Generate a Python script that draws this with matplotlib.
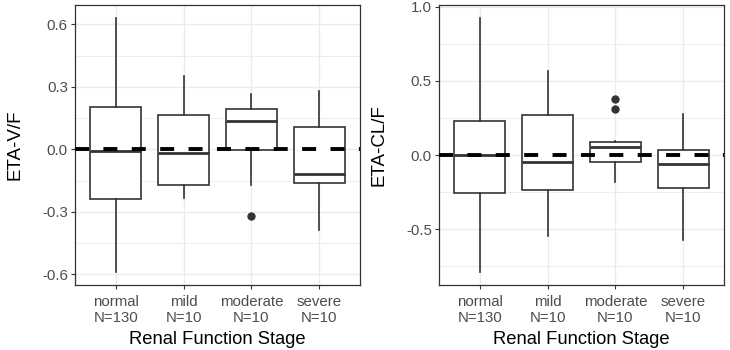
import matplotlib
matplotlib.use("Agg")
import matplotlib.pyplot as plt
import numpy as np

plt.rcParams["font.family"] = ["Liberation Sans", "DejaVu Sans"]
plt.rcParams["axes.unicode_minus"] = False

# categories and tick labels
stages = ["normal", "mild", "moderate", "severe"]
counts = [130, 10, 10, 10]

# ETA-V/F box statistics
v_whislo = [-0.589, -0.235, -0.171, -0.389]
v_q1 = [-0.237, -0.173, -0.003, -0.163]
v_med = [-0.008, -0.018, 0.138, -0.118]
v_q3 = [0.203, 0.165, 0.192, 0.109]
v_whishi = [0.632, 0.352, 0.267, 0.278]
v_fliers = [[], [], [-0.320], []]

# ETA-CL/F box statistics
cl_whislo = [-0.787, -0.545, -0.179, -0.572]
cl_q1 = [-0.253, -0.235, -0.047, -0.224]
cl_med = [0.002, -0.047, 0.056, -0.058]
cl_q3 = [0.229, 0.274, 0.090, 0.034]
cl_whishi = [0.924, 0.565, 0.096, 0.278]
cl_fliers = [[], [], [0.312, 0.381], []]

v_ticks = [-0.6, -0.3, 0.0, 0.3, 0.6]
cl_ticks = [-0.5, 0.0, 0.5, 1.0]

LINE = "#333333"
GRID = "#EBEBEB"
TICKTXT = "#4D4D4D"


def build_stats(lo, q1, med, q3, hi, fliers):
    return [
        dict(whislo=a, q1=b, med=c, q3=d, whishi=e, fliers=f)
        for a, b, c, d, e, f in zip(lo, q1, med, q3, hi, fliers)
    ]


def draw_panel(ax, stats, ticks, ylim, ylabel):
    pos = np.arange(1, len(stages) + 1)
    ax.set_xlim(0.4, len(stages) + 0.6)
    ax.set_ylim(*ylim)

    # grid: major + minor (theme_bw)
    step = ticks[1] - ticks[0]
    minor = [t + step / 2 for t in [ticks[0] - step] + ticks]
    for y in minor:
        ax.axhline(y, color=GRID, lw=0.6, zorder=0)
    for y in ticks:
        ax.axhline(y, color=GRID, lw=1.0, zorder=0)
    for x in pos:
        ax.axvline(x, color=GRID, lw=1.0, zorder=0)

    ax.bxp(
        stats,
        positions=pos,
        widths=0.75,
        showcaps=False,
        patch_artist=True,
        boxprops=dict(facecolor="white", edgecolor=LINE, linewidth=1.2),
        whiskerprops=dict(color=LINE, linewidth=1.2),
        medianprops=dict(color=LINE, linewidth=2.0),
        flierprops=dict(marker="o", markerfacecolor=LINE, markeredgecolor=LINE,
                        markersize=5),
        zorder=2,
    )

    ax.axhline(0, color="black", lw=2.8, dashes=(3.6, 3.7), zorder=3)

    ax.set_yticks(ticks)
    ax.set_yticklabels([f"{t:.1f}" for t in ticks])
    ax.set_xticks(pos)
    ax.set_xticklabels([f"{s}\nN={n}" for s, n in zip(stages, counts)],
                       linespacing=1.18)
    ax.tick_params(axis="both", colors=LINE, labelcolor=TICKTXT,
                   labelsize=10.8, length=2.9, width=0.8, pad=2.3)
    ax.tick_params(axis="x", pad=4.2)
    for sp in ax.spines.values():
        sp.set_color(LINE)
        sp.set_linewidth(0.9)
    ax.set_xlabel("Renal Function Stage", fontsize=13.2, labelpad=4.5)
    ax.set_ylabel(ylabel, fontsize=13.5, labelpad=13)


fig = plt.figure(figsize=(7.3, 3.5), dpi=100)
ax1 = fig.add_axes([75 / 730, 65 / 350, 285 / 730, 280 / 350])
ax2 = fig.add_axes([439 / 730, 65 / 350, 285 / 730, 280 / 350])

draw_panel(ax1, build_stats(v_whislo, v_q1, v_med, v_q3, v_whishi, v_fliers),
           v_ticks, (-0.651, 0.693), "ETA-V/F")
draw_panel(ax2, build_stats(cl_whislo, cl_q1, cl_med, cl_q3, cl_whishi, cl_fliers),
           cl_ticks, (-0.875, 1.012), "ETA-CL/F")

fig.savefig("out.png", dpi=100)
